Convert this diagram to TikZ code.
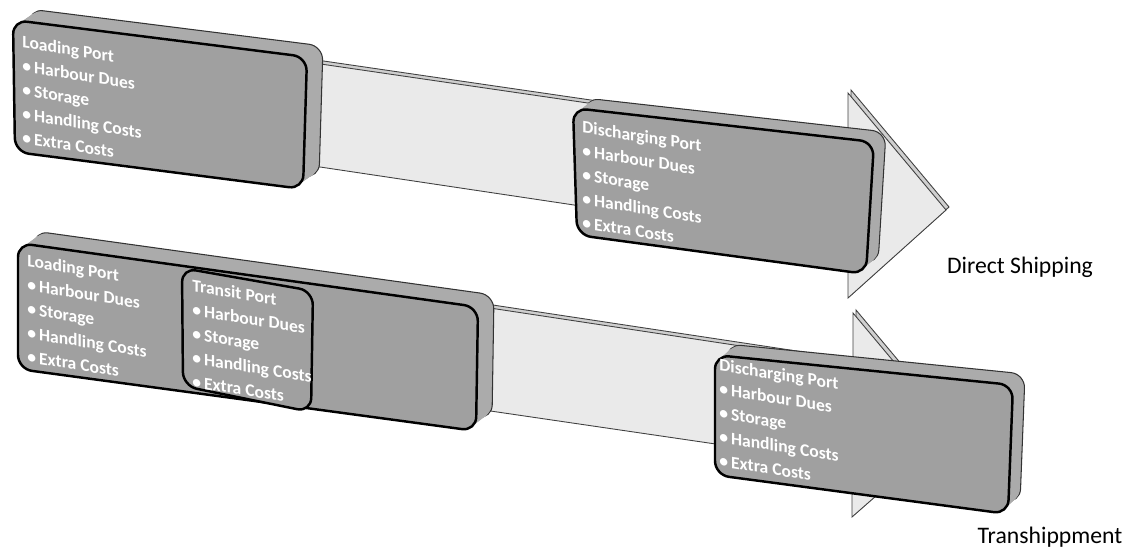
\documentclass[tikz,border=0pt]{standalone}
\usepackage{fontspec}
\setmainfont{Carlito}
\usetikzlibrary{calc,positioning}

\definecolor{slabgray}{HTML}{A0A0A0}
\definecolor{slabside}{HTML}{ABABAB}
\definecolor{shaftgray}{HTML}{EAEAEA}
\definecolor{shaftedge}{HTML}{CFCFCF}

\tikzset{
  face/.style={fill=slabgray,draw=black,line width=1.4pt,rounded corners=8pt},
  side/.style={fill=slabside,rounded corners=8pt},
  sideline/.style={side,draw=black!80,line width=0.6pt},
  shaft/.style={fill=shaftgray,draw=black!75,line width=0.5pt},
  shaftrim/.style={fill=shaftedge,draw=black!75,line width=0.5pt},
  porttext/.style={text=white,font=\bfseries\fontsize{10}{13.6}\selectfont,
    align=left,anchor=north west,inner sep=0pt,yslant=-0.16},
  caption/.style={font=\fontsize{13.5}{16}\selectfont}
}

% slab with depth: corners #1..#4, depth offset #5,#6
\newcommand{\slab}[6]{%
  \draw[sideline,shift={(#5,#6)}] (#1) -- (#2) -- (#3) -- (#4) -- cycle;
  \foreach \t in {0.9,0.8,...,0.1}
    \fill[side,shift={(\t*#5,\t*#6)}] (#1) -- (#2) -- (#3) -- (#4) -- cycle;
  \draw[face] (#1) -- (#2) -- (#3) -- (#4) -- cycle;}

\begin{document}
\begin{tikzpicture}[x=0.02cm,y=-0.02cm]
    \useasboundingbox (0,0) rectangle (1138,553);

    % direct shipping
    \draw[shaftrim,shift={(3,-3)}] (300,61) -- (848,141) -- (848,93) -- (946,210)
      -- (848,298) -- (848,246) -- (300,164) -- cycle;
    \draw[shaft] (300,61) -- (848,141) -- (848,93) -- (946,210)
      -- (848,298) -- (848,246) -- (300,164) -- cycle;
    \slab{13,20}{307,57}{303,189}{15,152}{16}{-11}
    \slab{573,108}{874,142}{866,274}{577,235}{12}{-10}
    \node[porttext] (lp1) at (22,35) {Loading Port\\\textbullet\,Harbour Dues\\
      \textbullet\,Storage\\\textbullet\,Handling Costs\\\textbullet\,Extra Costs};
    \node[porttext] (dp1) at (582,120) {Discharging Port\\\textbullet\,Harbour Dues\\
      \textbullet\,Storage\\\textbullet\,Handling Costs\\\textbullet\,Extra Costs};
    \node[caption] (direct) at (1020,267) {Direct Shipping};

    % transhipment
    \draw[shaftrim,shift={(3,-3)}] (470,305) -- (853,363) -- (853,313) -- (951,430)
      -- (852,517) -- (852,464) -- (470,408) -- cycle;
    \draw[shaft] (470,305) -- (853,363) -- (853,313) -- (951,430)
      -- (852,517) -- (852,464) -- (470,408) -- cycle;
    \slab{18,243}{478,307}{476,431}{18,369}{16}{-12}
    \draw[face] (182,268) -- (313,291) -- (311,412) -- (183,386) -- cycle;
    \slab{715,355}{1013,385}{1008,514}{715,475}{12}{-11}
    \node[porttext] (lp2) at (27,254) {Loading Port\\\textbullet\,Harbour Dues\\
      \textbullet\,Storage\\\textbullet\,Handling Costs\\\textbullet\,Extra Costs};
    \node[porttext] (tp2) at (192,279) {Transit Port\\\textbullet\,Harbour Dues\\
      \textbullet\,Storage\\\textbullet\,Handling Costs\\\textbullet\,Extra Costs};
    \node[porttext] (dp2) at (719,358) {Discharging Port\\\textbullet\,Harbour Dues\\
      \textbullet\,Storage\\\textbullet\,Handling Costs\\\textbullet\,Extra Costs};
    \node[caption] (trans) at (1050,537) {Transhippment};
\end{tikzpicture}
\end{document}
